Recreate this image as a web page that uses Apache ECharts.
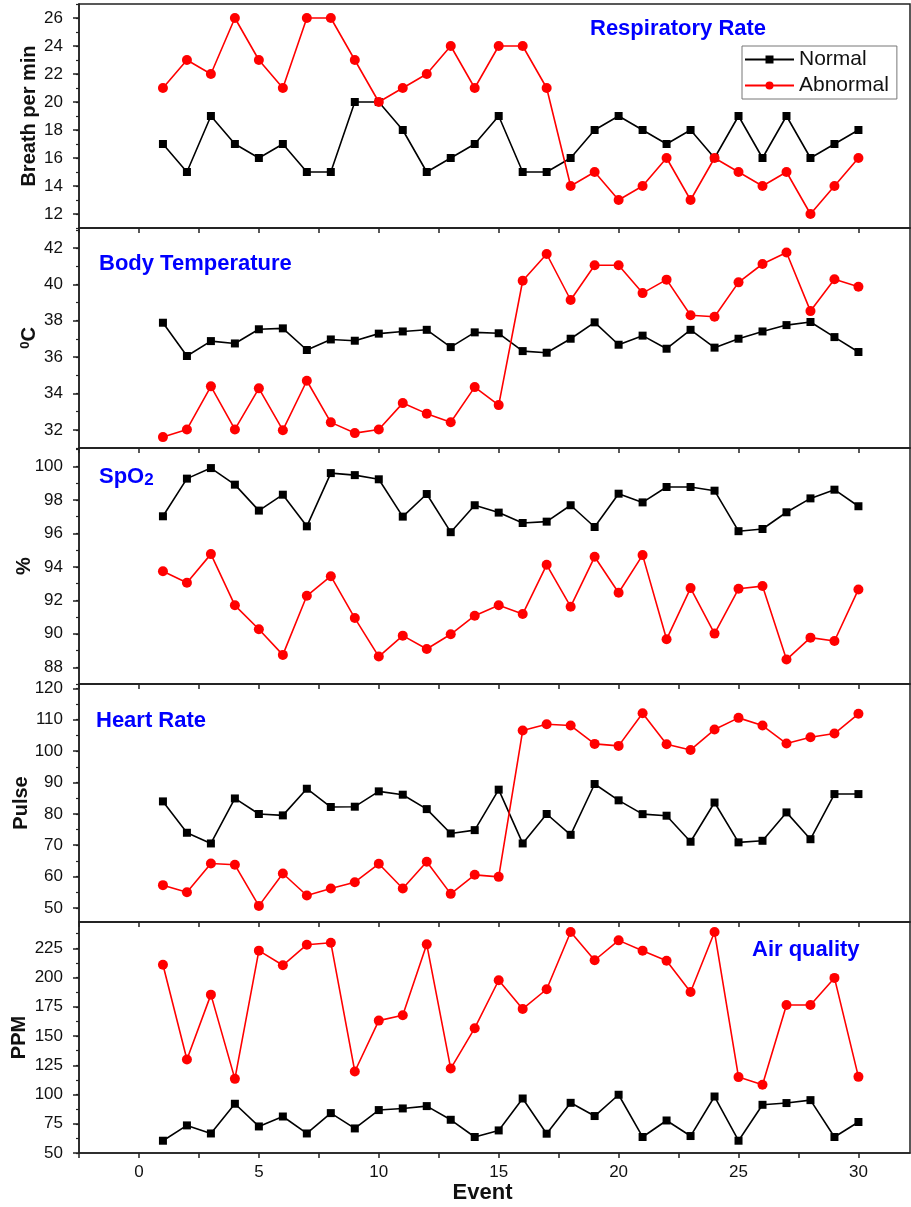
<!DOCTYPE html>
<html><head><meta charset="utf-8">
<script src="https://cdn.jsdelivr.net/npm/echarts@6/dist/echarts.min.js"></script>
<style>html,body{margin:0;padding:0;background:#fff}#c{width:911px;height:1207px}</style>
</head><body><div id="c"></div>
<script>
const events = [1,2,3,4,5,6,7,8,9,10,11,12,13,14,15,16,17,18,19,20,21,22,23,24,25,26,27,28,29,30];

const respNormal   = [17,15,19,17,16,17,15,15,20,20,18,15,16,17,19,15,15,16,18,19,18,17,18,16,19,16,19,16,17,18];
const respAbnormal = [21,23,22,26,23,21,26,26,23,20,21,22,24,21,24,24,21,14,15,13,14,16,13,16,15,14,15,12,14,16];

const tempNormal   = [37.89,36.06,36.88,36.75,37.53,37.58,36.39,36.97,36.9,37.29,37.41,37.5,36.55,37.36,37.31,36.33,36.24,37.01,37.91,36.68,37.18,36.46,37.5,36.52,37.01,37.41,37.76,37.93,37.1,36.28];
const tempAbnormal = [31.6,32.02,34.39,32.02,34.28,31.98,34.7,32.41,31.82,32.02,33.47,32.89,32.42,34.35,33.36,40.2,41.67,39.14,41.05,41.05,39.52,40.26,38.3,38.22,40.11,41.12,41.75,38.53,40.28,39.87];

const spo2Normal   = [97.02,99.27,99.9,98.91,97.36,98.31,96.42,99.6,99.48,99.23,97.0,98.35,96.07,97.68,97.24,96.62,96.7,97.68,96.38,98.37,97.85,98.77,98.77,98.55,96.13,96.26,97.26,98.09,98.61,97.62];
const spo2Abnormal = [93.74,93.05,94.76,91.7,90.27,88.74,92.27,93.44,90.94,88.64,89.89,89.09,89.97,91.08,91.7,91.18,94.12,91.62,94.6,92.45,94.7,89.67,92.73,90.01,92.69,92.85,88.46,89.77,89.57,92.65];

const hrNormal   = [83.96,73.96,70.55,84.9,79.94,79.5,88.0,82.17,82.27,87.16,86.1,81.5,73.74,74.8,87.7,70.55,79.94,73.3,89.5,84.3,79.9,79.4,71.1,83.6,70.9,71.4,80.45,71.9,86.3,86.3];
const hrAbnormal = [57.25,55.0,64.15,63.74,50.64,60.97,53.94,56.17,58.2,64.06,56.17,64.7,54.47,60.54,59.9,106.55,108.56,108.15,102.3,101.66,112.08,102.2,100.38,106.87,110.6,108.15,102.4,104.4,105.6,111.9];

const aqNormal   = [60.5,73.6,66.7,92.1,72.7,81.2,66.7,84.1,71.0,86.7,88.1,90.1,78.4,63.7,69.3,96.6,66.5,92.9,81.6,99.8,63.7,77.8,64.5,98.3,60.5,91.2,92.7,95.2,63.7,76.5];
const aqAbnormal = [211.0,129.9,185.4,113.4,223.0,210.5,228.1,229.8,119.7,163.2,167.8,228.4,122.2,156.7,197.7,173.2,190.0,238.9,214.8,231.8,223.0,214.4,187.7,238.9,114.9,108.3,176.6,176.6,199.7,115.1];

const xLabels = [0,5,10,15,20,25,30];
const xTicks  = [-2.5,0,2.5,5,7.5,10,12.5,15,17.5,20,22.5,25,27.5,30];

const respLabels = [12,14,16,18,20,22,24,26];
const respMinor  = [11,12,13,14,15,16,17,18,19,20,21,22,23,24,25,26,27];
const tempLabels = [32,34,36,38,40,42];
const tempMinor  = [31,32,33,34,35,36,37,38,39,40,41,42,43];
const spo2Labels = [88,90,92,94,96,98,100];
const spo2Minor  = [87,88,89,90,91,92,93,94,95,96,97,98,99,100,101];
const hrLabels   = [50,60,70,80,90,100,110,120];
const hrMinor    = [50,55,60,65,70,75,80,85,90,95,100,105,110,115,120];
const aqLabels   = [50,75,100,125,150,175,200,225];
const aqMinor    = [50,62.5,75,87.5,100,112.5,125,137.5,150,162.5,175,187.5,200,212.5,225,237.5];

const FONT = "'Liberation Sans', Arial, Helvetica, sans-serif";
const AXC = '#222';

const panels = [
  {top:4,   bottom:228,  min:11,   max:27,    labels:respLabels, minor:respMinor, name:'Breath per min', gap:40,   normal:respNormal, abnormal:respAbnormal},
  {top:228, bottom:448,  min:31,   max:43.1,  labels:tempLabels, minor:tempMinor, name:'{s|0}C',         gap:40,   normal:tempNormal, abnormal:tempAbnormal},
  {top:448, bottom:684,  min:87,   max:101.1, labels:spo2Labels, minor:spo2Minor, name:'%',              gap:45,   normal:spo2Normal, abnormal:spo2Abnormal},
  {top:684, bottom:922,  min:45.5, max:121.4, labels:hrLabels,   minor:hrMinor,   name:'Pulse',          gap:47.5, normal:hrNormal,   abnormal:hrAbnormal},
  {top:922, bottom:1153, min:50,   max:247.5, labels:aqLabels,   minor:aqMinor,   name:'PPM',            gap:49.5, normal:aqNormal,   abnormal:aqAbnormal}
];

const grids = [], xAxes = [], yAxes = [], series = [];
panels.forEach((p, i) => {
  grids.push({left:79, right:1, top:p.top, height:p.bottom - p.top, show:true,
    borderColor:AXC, borderWidth:1.5, backgroundColor:'transparent', containLabel:false, outerBoundsMode:'none'});
  const last = i === panels.length - 1;
  xAxes.push({type:'value', gridIndex:i, min:-2.5, max:32.15,
    axisLine:{show:true, onZero:false, lineStyle:{color:AXC, width:1.5}},
    axisTick:{show:true, inside:false, length:5, customValues:xTicks, lineStyle:{color:AXC, width:1.5}},
    axisLabel:{show:last, customValues:xLabels, fontSize:17, margin:11, color:'#111', fontFamily:FONT},
    splitLine:{show:false},
    name: last ? 'Event' : '', nameLocation:'middle', nameGap:29, nameMoveOverlap:false,
    nameTextStyle:{fontSize:22, fontWeight:'bold', color:'#111', fontFamily:FONT, padding:[0,24,0,0]}
  });
  yAxes.push({type:'value', gridIndex:i, min:p.min, max:p.max, position:'left',
    axisLine:{show:true, onZero:false, lineStyle:{color:AXC, width:1.5}},
    axisTick:{show:true, inside:false, length:6, customValues:p.labels, lineStyle:{color:AXC, width:1.5}},
    axisLabel:{customValues:p.labels, fontSize:17, margin:16, color:'#111', fontFamily:FONT},
    splitLine:{show:false},
    name:p.name, nameLocation:'middle', nameGap:p.gap, nameMoveOverlap:false,
    nameTextStyle:{fontSize:20, fontWeight:'bold', color:'#111', fontFamily:FONT,
      rich:{s:{fontSize:13, fontWeight:'bold', color:'#111', fontFamily:FONT, verticalAlign:'top', lineHeight:20}}}
  });
  yAxes.push({type:'value', gridIndex:i, min:p.min, max:p.max, position:'left', offset:0,
    axisLine:{show:false, onZero:false},
    axisTick:{show:true, inside:false, length:3, customValues:p.minor, lineStyle:{color:AXC, width:1.2}},
    axisLabel:{show:false}, splitLine:{show:false}
  });
  series.push({name:'Normal', type:'line', xAxisIndex:i, yAxisIndex:2*i,
    data: events.map((e, k) => [e, p.normal[k]]),
    symbol:'rect', symbolSize:8, showAllSymbol:true,
    lineStyle:{color:'#000', width:1.6}, itemStyle:{color:'#000'}, z:2, animation:false});
  series.push({name:'Abnormal', type:'line', xAxisIndex:i, yAxisIndex:2*i,
    data: events.map((e, k) => [e, p.abnormal[k]]),
    symbol:'circle', symbolSize:10, showAllSymbol:true,
    lineStyle:{color:'#ff0000', width:1.6}, itemStyle:{color:'#ff0000'}, z:3, animation:false});
});

const tStyle = {fontSize:22, fontWeight:'bold', color:'#0000ff', fontFamily:FONT};
const titles = [
  {text:'Respiratory Rate', left:590, top:18, padding:0, textStyle:tStyle},
  {text:'Body Temperature', left:99, top:253, padding:0, textStyle:tStyle},
  {text:'SpO{s|2}', left:99, top:464, padding:0, textStyle:Object.assign({}, tStyle,
      {rich:{s:{fontSize:17, fontWeight:'bold', color:'#0000ff', fontFamily:FONT, verticalAlign:'bottom', padding:[8,0,0,0]}}})},
  {text:'Heart Rate', left:96, top:710, padding:0, textStyle:tStyle},
  {text:'Air quality', left:752, top:939, padding:0, textStyle:tStyle}
];

const chart = echarts.init(document.getElementById('c'), null, {renderer:'canvas'});
chart.setOption({
  animation:false,
  backgroundColor:'#fff',
  title:titles,
  legend:{data:['Normal','Abnormal'], orient:'vertical', left:742, top:46,
    padding:[3,8,3,2], itemGap:5, itemWidth:49, itemHeight:10,
    borderColor:'#777', borderWidth:1, backgroundColor:'#fff',
    textStyle:{fontSize:21, color:'#111', fontFamily:FONT}},
  grid:grids, xAxis:xAxes, yAxis:yAxes, series:series
});
</script></body></html>
